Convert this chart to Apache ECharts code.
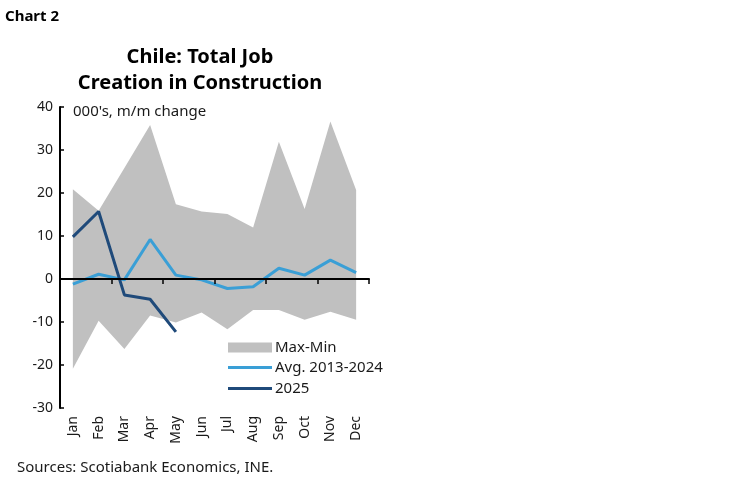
<!DOCTYPE html>
<html>
<head>
<meta charset="utf-8">
<script src="https://cdn.jsdelivr.net/npm/echarts@6/dist/echarts.min.js"></script>
<style>
  html, body { margin: 0; padding: 0; background: #fff; }
  #chart { width: 749px; height: 482px; }
</style>
</head>
<body>
<div id="chart"></div>
<script>
// 月份
const months = ["Jan", "Feb", "Mar", "Apr", "May", "Jun", "Jul", "Aug", "Sep", "Oct", "Nov", "Dec"];
// 区间上下限
const maxValues = [20.9, 15.9, 25.8, 35.8, 17.4, 15.7, 15.1, 12.0, 31.9, 16.3, 36.6, 20.7];
const minValues = [-20.9, -9.7, -16.3, -8.5, -10.1, -7.8, -11.7, -7.2, -7.2, -9.5, -7.6, -9.5];
// 平均值 2013-2024
const avgValues = [-1.2, 1.1, -0.2, 9.2, 0.9, -0.2, -2.2, -1.8, 2.5, 0.9, 4.4, 1.5];
// 2025
const y2025Values = [9.8, 15.7, -3.7, -4.7, -12.3];
// Y轴刻度
const yTicks = [-30, -20, -10, 0, 10, 20, 30, 40];

const font = "'Noto Sans', sans-serif";
const textColor = "#1a1a1a";
const bandColor = "#c0c0c0";
const avgColor = "#3a9fd6";
const y2025Color = "#1f4a7a";

const myChart = echarts.init(document.getElementById("chart"), null, { renderer: "canvas" });

const legendBase = {
  orient: "vertical",
  left: 228,
  padding: 0,
  itemWidth: 44,
  itemGap: 4,
  selectedMode: false,
  textStyle: { color: textColor, fontSize: 15, fontFamily: font, padding: [0, 0, 0, -2] },
};

const option = {
  backgroundColor: "#fff",
  animation: false,
  title: [
    {
      text: "Chart 2",
      left: 5,
      top: 9,
      padding: 0,
      textStyle: { fontSize: 15, fontWeight: "bold", color: "#000", fontFamily: font },
    },
    {
      text: "Chile: Total Job\nCreation in Construction",
      left: 200,
      top: 44,
      padding: 0,
      textAlign: "center",
      textStyle: { fontSize: 20, fontWeight: "bold", color: "#000", fontFamily: font, lineHeight: 26 },
    },
    {
      text: "000's, m/m change",
      left: 73,
      top: 104,
      padding: 0,
      textStyle: { fontSize: 15, fontWeight: "normal", color: textColor, fontFamily: font },
    },
    {
      text: "Sources: Scotiabank Economics, INE.",
      left: 17,
      top: 460,
      padding: 0,
      textStyle: { fontSize: 15, fontWeight: "normal", color: textColor, fontFamily: font },
    },
  ],
  legend: [
    Object.assign({}, legendBase, {
      top: 340,
      itemHeight: 10,
      data: [{ name: "Max-Min", icon: "rect", itemStyle: { color: bandColor } }],
    }),
    Object.assign({}, legendBase, {
      top: 360,
      itemHeight: 3,
      data: [{ name: "Avg. 2013-2024", icon: "rect" }],
    }),
    Object.assign({}, legendBase, {
      top: 381,
      itemHeight: 3,
      data: [{ name: "2025", icon: "rect" }],
    }),
  ],
  grid: { left: 60, right: 380, top: 107, bottom: 74, containLabel: false },
  xAxis: [
    {
      // 零线
      type: "category",
      data: months,
      boundaryGap: true,
      axisLine: { show: true, onZero: true, lineStyle: { color: "#000", width: 2 } },
      axisTick: { show: true, length: 5, inside: false, lineStyle: { color: "#000", width: 1.5 } },
      axisLabel: { show: false },
      z: 10,
    },
    {
      // 底部标签
      type: "category",
      data: months,
      position: "bottom",
      boundaryGap: true,
      axisLine: { show: false, onZero: false },
      axisTick: { show: false },
      axisLabel: {
        show: true,
        rotate: 90,
        margin: 8,
        color: textColor,
        fontSize: 14,
        fontFamily: font,
        interval: 0,
      },
    },
  ],
  yAxis: {
    type: "value",
    min: yTicks[0],
    max: yTicks[yTicks.length - 1],
    interval: 10,
    axisLine: { show: true, lineStyle: { color: "#000", width: 2 } },
    axisTick: { show: true, inside: true, length: 4, lineStyle: { color: "#000", width: 1.5 } },
    splitLine: { show: false },
    axisLabel: { color: textColor, fontSize: 14, fontFamily: font, margin: 7 },
    z: 10,
  },
  series: [
    {
      name: "Max-Min",
      type: "line",
      data: maxValues,
      showSymbol: false,
      lineStyle: { width: 0 },
      itemStyle: { color: bandColor },
      areaStyle: { color: bandColor, opacity: 1, origin: 0 },
      z: 1,
    },
    {
      name: "Max-Min",
      type: "line",
      data: minValues,
      showSymbol: false,
      lineStyle: { width: 0 },
      itemStyle: { color: bandColor },
      areaStyle: { color: bandColor, opacity: 1, origin: 0 },
      z: 1,
    },
    {
      name: "Avg. 2013-2024",
      type: "line",
      data: avgValues,
      showSymbol: false,
      lineStyle: { color: avgColor, width: 3 },
      itemStyle: { color: avgColor },
      z: 3,
    },
    {
      name: "2025",
      type: "line",
      data: y2025Values,
      showSymbol: false,
      lineStyle: { color: y2025Color, width: 3 },
      itemStyle: { color: y2025Color },
      z: 4,
    },
  ],
};

option && myChart.setOption(option);
</script>
</body>
</html>
